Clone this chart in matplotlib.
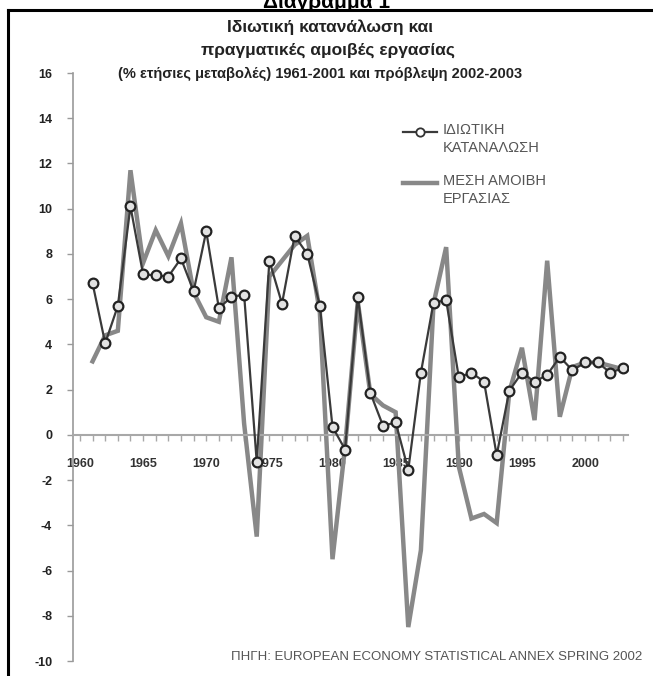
import matplotlib
matplotlib.use("Agg")
import matplotlib.pyplot as plt
from matplotlib.lines import Line2D
from matplotlib.ticker import MultipleLocator
import matplotlib.font_manager as fm

years = list(range(1961, 2004))
consumption = [6.7, 4.05, 5.7, 10.1, 7.1, 7.05, 7.0, 7.8, 6.35, 9.0,
               5.6, 6.1, 6.2, -1.2, 7.7, 5.8, 8.8, 8.0, 5.7, 0.35,
               -0.65, 6.1, 1.85, 0.4, 0.55, -1.55, 2.75, 5.85, 5.95, 2.55,
               2.75, 2.35, -0.9, 1.95, 2.75, 2.35, 2.65, 3.45, 2.85, 3.2,
               3.2, 2.75, 2.95]
wages = [3.25, 4.4, 4.6, 11.7, 7.6, 9.05, 7.9, 9.35, 6.3, 5.2,
         5.0, 7.85, 0.5, -4.5, 7.0, 7.7, 8.4, 8.8, 5.4, -5.5,
         -0.5, 5.9, 1.8, 1.3, 1.0, -8.5, -5.1, 5.8, 8.3, -1.4,
         -3.7, -3.5, -3.9, 1.9, 3.85, 0.65, 7.7, 0.8, 3.0, 3.2,
         3.2, 3.05, 2.9]
xtick_years = [1960, 1965, 1970, 1975, 1980, 1985, 1990, 1995, 2000]
yticks = list(range(-10, 17, 2))

title1 = "Ιδιωτική κατανάλωση και"
title2 = "πραγματικές αμοιβές εργασίας"
subtitle = "(% ετήσιες μεταβολές) 1961-2001 και πρόβλεψη 2002-2003"
leg1 = "ΙΔΙΩΤΙΚΗ\nΚΑΤΑΝΑΛΩΣΗ"
leg2 = "ΜΕΣΗ ΑΜΟΙΒΗ\nΕΡΓΑΣΙΑΣ"
source = "ΠΗΓΗ: EUROPEAN ECONOMY STATISTICAL ANNEX SPRING 2002"
top_text = "Διάγραμμα 1"

names = {f.name for f in fm.fontManager.ttflist}
narrow = "Liberation Sans Narrow" if "Liberation Sans Narrow" in names else "Liberation Sans"
plt.rcParams['font.family'] = [narrow, 'DejaVu Sans']

W, H = 653, 676
fig = plt.figure(figsize=(W / 100, H / 100), dpi=100)

def fx(px):
    return px / W

def fy(py):
    return 1 - py / H

ax = fig.add_axes([fx(73), fy(661), fx(628) - fx(73), fy(73) - fy(661)])

ax.plot(years, wages, color='#888888', lw=3.2, solid_joinstyle='miter', zorder=2)
ax.plot(years, consumption, color='#3a3a3a', lw=1.6, marker='o', markersize=7,
        markerfacecolor='#e2e2e2', markeredgecolor='#222222', markeredgewidth=1.6, zorder=3)

ax.set_xlim(1959.45, 2003.4)
ax.set_ylim(-10, 16)

for s in ['top', 'right']:
    ax.spines[s].set_visible(False)
ax.spines['left'].set_color('#9a9a9a')
ax.spines['left'].set_linewidth(1.2)
ax.spines['bottom'].set_position(('data', 0))
ax.spines['bottom'].set_color('#a8a8a8')
ax.spines['bottom'].set_linewidth(1.5)

ax.set_yticks(yticks)
ax.set_yticklabels([str(v) for v in yticks])
ax.set_xticks(xtick_years)
ax.set_xticklabels([str(v) for v in xtick_years])
ax.xaxis.set_minor_locator(MultipleLocator(1))
ax.tick_params(axis='y', direction='out', length=4, width=1, color='#9a9a9a',
               labelsize=9, labelcolor='#222222', pad=11)
ax.tick_params(axis='x', which='both', direction='out', length=4, width=1, color='#a8a8a8',
               labelsize=9, labelcolor='#333333', pad=13)
for lab in ax.get_yticklabels() + ax.get_xticklabels():
    lab.set_fontweight('bold')

# legend (manual)
fig.add_artist(Line2D([fx(403), fx(437)], [fy(132), fy(132)], color='#3a3a3a', lw=1.6))
fig.add_artist(Line2D([fx(420)], [fy(132)], marker='o', markersize=6, markerfacecolor='white',
                      markeredgecolor='#333333', markeredgewidth=1.3, color='#3a3a3a'))
fig.add_artist(Line2D([fx(403), fx(437)], [fy(183), fy(183)], color='#888888', lw=3.2))
fig.text(fx(443), fy(123), leg1, ha='left', va='top', fontsize=10.5, color='#555555',
         linespacing=1.35)
fig.text(fx(443), fy(174), leg2, ha='left', va='top', fontsize=10.5, color='#555555',
         linespacing=1.35)

# titles
fig.text(fx(327), fy(3), top_text, ha='center', va='center', fontsize=15, fontweight='bold',
         color='black')
fig.text(fx(330), fy(27), title1, ha='center', va='center', fontsize=12.5, fontweight='bold',
         color='#222222')
fig.text(fx(328), fy(50), title2, ha='center', va='center', fontsize=12.5, fontweight='bold',
         color='#222222')
fig.text(fx(320), fy(74), subtitle, ha='center', va='center', fontsize=10.5, fontweight='bold',
         color='#222222')
fig.text(fx(642), fy(657), source, ha='right', va='center', fontsize=9.5, color='#555555')

# frame
fig.add_artist(Line2D([fx(7.5), fx(7.5)], [fy(10), fy(700)], color='black', lw=2.2))
fig.add_artist(Line2D([fx(7.5), fx(700)], [fy(10), fy(10)], color='black', lw=2.2))

fig.savefig('out.png', dpi=100)
